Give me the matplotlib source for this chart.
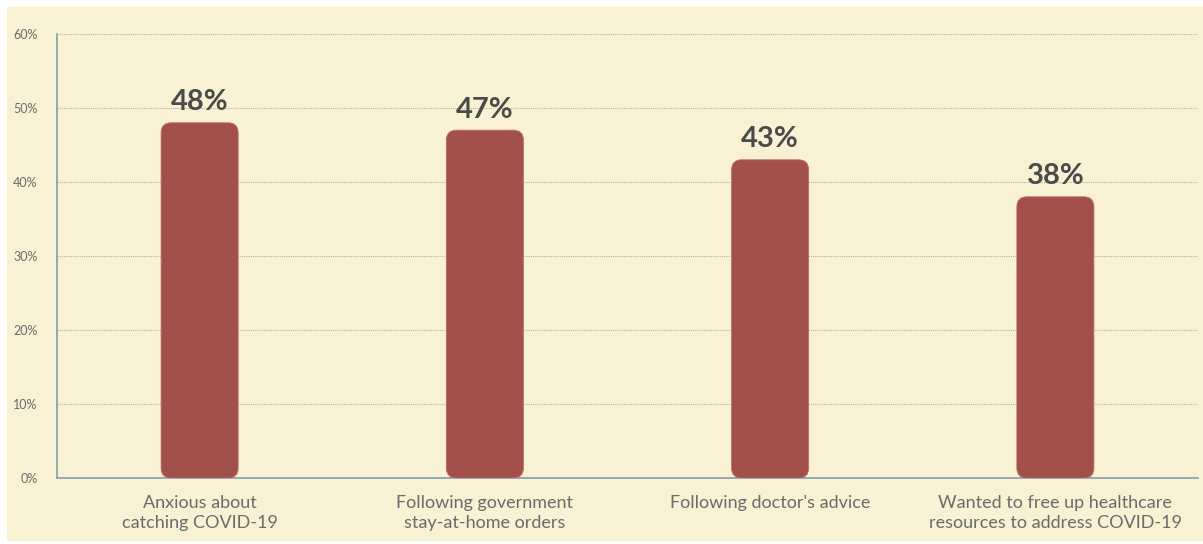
import matplotlib
matplotlib.use("Agg")
import matplotlib.pyplot as plt
from matplotlib.patches import FancyBboxPatch
from matplotlib.ticker import FuncFormatter

# Data
categories = ["Anxious about\ncatching COVID-19",
              "Following government\nstay-at-home orders",
              "Following doctor's advice",
              "Wanted to free up healthcare\nresources to address COVID-19"]
values = [48, 47, 43, 38]
yticks = [0, 10, 20, 30, 40, 50, 60]

bg = "#f8f1d4"
bar_color = "#a3504b"
text_grey = "#6b6b6b"
axis_col = "#8a9ab0"

plt.rcParams["font.family"] = ["Lato", "DejaVu Sans"]

fig = plt.figure(figsize=(12.03, 5.44), dpi=100, facecolor="white")
# cream panel behind the axes
fig.patches.append(plt.Rectangle((7 / 1203, 4 / 544), 1196 / 1203, 533 / 544,
                                 transform=fig.transFigure, color=bg, zorder=-10))
ax = fig.add_axes([57 / 1203, 1 - 478 / 544, 1141 / 1203, 444 / 544])
ax.patch.set_alpha(0)

ax.set_xlim(-0.5, len(categories) - 0.5)
ax.set_ylim(0, 60)

# axis scale in pixels, used for rounding corners
px_x = 1141 / len(categories)
px_y = 444 / 60
r_px = 10
width = 0.27
for i, v in enumerate(values):
    rx = r_px / px_x
    aspect = (r_px / px_y) / rx
    p = FancyBboxPatch((i - width / 2, 0), width, v,
                       boxstyle=f"round,pad=0,rounding_size={rx}",
                       mutation_aspect=aspect,
                       fc=bar_color, ec="#ba6c62", lw=0.6, zorder=3)
    ax.add_patch(p)
    ax.text(i, v + 1.0, f"{v}%", ha="center", va="bottom",
            fontsize=21, color="#4a4a4a", fontweight="bold", zorder=4)

ax.set_yticks(yticks)
ax.yaxis.set_major_formatter(FuncFormatter(lambda y, _: f"{y:.0f}%"))
ax.set_xticks(range(len(categories)))
ax.set_xticklabels(categories, fontsize=13, color=text_grey, linespacing=1.3)
ax.tick_params(axis="y", labelsize=9, labelcolor=text_grey, length=0, pad=14)
ax.tick_params(axis="x", length=0, pad=12)

ax.grid(axis="y", color="#b8b4a4", linestyle=(0, (1, 1)), linewidth=0.8, zorder=1)
for s in ["top", "right"]:
    ax.spines[s].set_visible(False)
for s in ["left", "bottom"]:
    ax.spines[s].set_color(axis_col)
    ax.spines[s].set_linewidth(1.2)

fig.savefig("out.png", dpi=100, facecolor="white")
